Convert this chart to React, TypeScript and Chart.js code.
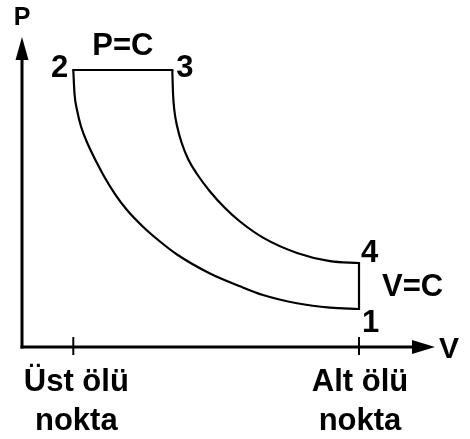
import React, { useEffect, useRef } from "react";
import { Chart, registerables } from "chart.js";

Chart.register(...registerables);

// Compression 2 -> 1 (isentropic), volume and pressure in arbitrary units
const compressionV = [1.242, 1.271, 1.332, 1.429, 1.598, 1.816, 2.01, 2.252, 2.542, 2.93, 3.341, 3.753, 4.552, 5.278, 5.835, 6.659, 7.458, 8.16];
const compressionP = [8.935, 8.177, 7.645, 7.113, 6.532, 5.935, 5.452, 4.935, 4.419, 3.881, 3.403, 2.984, 2.371, 1.958, 1.677, 1.41, 1.268, 1.226];
// Expansion 3 -> 4 (isentropic)
const expansionV = [3.639, 3.656, 3.688, 3.76, 3.867, 4.027, 4.237, 4.552, 4.915, 5.278, 5.835, 6.659, 7.458, 8.16];
const expansionP = [8.935, 8.194, 7.645, 7.097, 6.581, 6.048, 5.581, 5.016, 4.484, 4.048, 3.529, 3.035, 2.771, 2.71];

// Tick positions on the V axis with labels
const tickValues = [1.242, 8.16];
const tickLabels = [["Üst ölü", "nokta"], ["Alt ölü", "nokta"]];

const axisTitleX = "V";
const axisTitleY = "P";
const pressureLabel = "P=C";
const volumeLabel = "V=C";
const stateLabels = ["1", "2", "3", "4"];

const FONT = "'Liberation Sans', Arial, Helvetica, sans-serif";

export default function App() {
  const ref = useRef<HTMLCanvasElement | null>(null);

  useEffect(() => {
    document.body.style.margin = "0";
    const canvas = ref.current;
    if (!canvas) return;

    const n1 = compressionV.length - 1;
    const n4 = expansionV.length - 1;
    const p1 = { x: compressionV[n1], y: compressionP[n1] };
    const p2 = { x: compressionV[0], y: compressionP[0] };
    const p3 = { x: expansionV[0], y: expansionP[0] };
    const p4 = { x: expansionV[n4], y: expansionP[n4] };

    const line = (data: { x: number; y: number }[], curved: boolean, cap: CanvasLineCap) => ({
      data,
      showLine: true,
      borderColor: "#000",
      borderWidth: 2.2,
      pointRadius: 0,
      tension: curved ? 0.4 : 0,
      cubicInterpolationMode: curved ? "monotone" : "default",
      borderCapStyle: cap,
      borderJoinStyle: "miter" as CanvasLineJoin,
      fill: false,
    });

    const diagramPlugin = {
      id: "diagram",
      beforeDatasetsDraw(chart: any) {
        const { ctx, chartArea, scales } = chart;
        const xs = scales.x;
        const ys = scales.y;
        const ox = xs.getPixelForValue(xs.min);
        const oy = ys.getPixelForValue(ys.min);
        const topY = chartArea.top;
        const rightX = chartArea.right;
        ctx.save();
        ctx.strokeStyle = "#000";
        ctx.fillStyle = "#000";
        ctx.lineWidth = 3;
        ctx.lineCap = "butt";
        // Y axis
        ctx.beginPath();
        ctx.moveTo(ox, oy + 1.5);
        ctx.lineTo(ox, topY + 20);
        ctx.stroke();
        ctx.beginPath();
        ctx.moveTo(ox, topY);
        ctx.lineTo(ox - 6.5, topY + 23);
        ctx.lineTo(ox + 6.5, topY + 23);
        ctx.closePath();
        ctx.fill();
        // X axis
        ctx.beginPath();
        ctx.moveTo(ox - 1.5, oy);
        ctx.lineTo(rightX - 20, oy);
        ctx.stroke();
        ctx.beginPath();
        ctx.moveTo(rightX, oy);
        ctx.lineTo(rightX - 23, oy - 7);
        ctx.lineTo(rightX - 23, oy + 7);
        ctx.closePath();
        ctx.fill();
        // ticks
        ctx.lineWidth = 2;
        tickValues.forEach((v) => {
          const px = xs.getPixelForValue(v);
          ctx.beginPath();
          ctx.moveTo(px, oy - 10);
          ctx.lineTo(px, oy + 8);
          ctx.stroke();
        });
        ctx.restore();
      },
      afterDraw(chart: any) {
        const { ctx, chartArea, scales } = chart;
        const xs = scales.x;
        const ys = scales.y;
        const ox = xs.getPixelForValue(xs.min);
        const oy = ys.getPixelForValue(ys.min);
        const px = (p: { x: number; y: number }) => [xs.getPixelForValue(p.x), ys.getPixelForValue(p.y)];
        const [x1, y1] = px(p1);
        const [x2, y2] = px(p2);
        const [x3, y3] = px(p3);
        const [x4, y4] = px(p4);
        ctx.save();
        ctx.fillStyle = "#000";
        ctx.textBaseline = "alphabetic";
        ctx.font = `bold 31px ${FONT}`;
        // state labels
        ctx.textAlign = "left";
        ctx.fillText(stateLabels[0], x1 + 3, y1 + 23);
        ctx.fillText(stateLabels[2], x3 + 4, y3 + 7);
        ctx.fillText(stateLabels[3], x4 + 2, y4 - 1);
        ctx.textAlign = "right";
        ctx.fillText(stateLabels[1], x2 - 5, y2 + 7);
        // process labels
        ctx.textAlign = "center";
        ctx.fillText(pressureLabel, (x2 + x3) / 2, y2 - 15);
        ctx.textAlign = "left";
        ctx.textBaseline = "middle";
        ctx.fillText(volumeLabel, x1 + 23, (y1 + y4) / 2 + 1);
        // axis titles
        ctx.textBaseline = "alphabetic";
        ctx.font = `bold 30px ${FONT}`;
        ctx.fillText(axisTitleX, chartArea.right + 4, oy + 11);
        ctx.textAlign = "center";
        ctx.font = `bold 25px ${FONT}`;
        ctx.fillText(axisTitleY, ox, chartArea.top - 12);
        // tick labels
        ctx.font = `bold 31px ${FONT}`;
        tickValues.forEach((v, i) => {
          const tx = xs.getPixelForValue(v) + (i === 0 ? 3 : 1);
          ctx.fillText(tickLabels[i][0], tx, oy + 44);
          ctx.fillText(tickLabels[i][1], tx, oy + 83);
        });
        ctx.restore();
      },
    };

    const chart = new Chart(canvas, {
      type: "scatter",
      data: {
        datasets: [
          line(compressionV.map((v, i) => ({ x: v, y: compressionP[i] })), true, "butt"),
          line(expansionV.map((v, i) => ({ x: v, y: expansionP[i] })), true, "butt"),
          line([p2, p3], false, "square"),
          line([p4, p1], false, "square"),
        ] as any,
      },
      options: {
        responsive: false,
        animation: false,
        events: [],
        layout: { padding: { left: 22, right: 35, top: 37, bottom: 92 } },
        plugins: { legend: { display: false }, tooltip: { enabled: false } },
        scales: {
          x: { type: "linear", min: 0, max: 10, display: false },
          y: { type: "linear", min: 0, max: 10, display: false },
        },
      },
      plugins: [diagramPlugin],
    });

    return () => chart.destroy();
  }, []);

  return (
    <div style={{ width: 470, height: 439 }}>
      <canvas ref={ref} width={470} height={439} />
    </div>
  );
}
